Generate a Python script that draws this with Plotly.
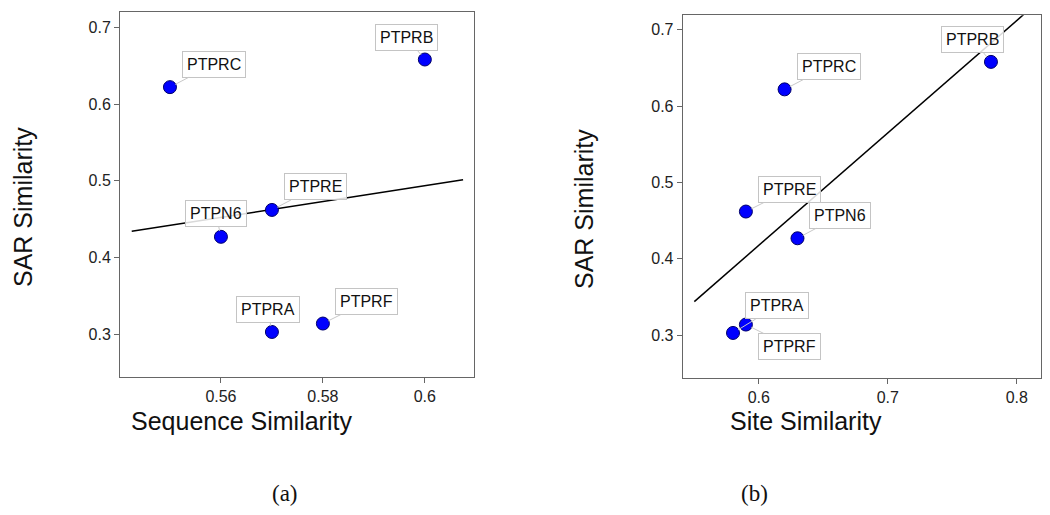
import numpy as np
import plotly.graph_objects as go

# ---- data ----
genes = ["PTPRC", "PTPRB", "PTPRE", "PTPN6", "PTPRA", "PTPRF"]
seq_sim = [0.55, 0.60, 0.57, 0.56, 0.57, 0.58]
site_sim = [0.62, 0.78, 0.59, 0.63, 0.58, 0.59]
sar_sim = [0.622, 0.658, 0.462, 0.427, 0.303, 0.314]

x_ticks_a = [0.56, 0.58, 0.6]
x_ticks_b = [0.6, 0.7, 0.8]
y_ticks = [0.3, 0.4, 0.5, 0.6, 0.7]

# label offsets in pixels (box centre relative to point)
offs_a = {"PTPRC": (44, -23), "PTPRB": (-18, -22), "PTPRE": (44, -23),
          "PTPN6": (-5, -23), "PTPRA": (-4, -22), "PTPRF": (44, -22)}
offs_b = {"PTPRC": (44, -23), "PTPRB": (-18, -22), "PTPRE": (44, -22),
          "PTPN6": (43, -23), "PTPRA": (44, -27), "PTPRF": (44, 22)}

FONT = "Liberation Sans, Arial, sans-serif"
W, H = 1050, 515

fig = go.Figure()


def fit_line(xs, ys):
    xs = np.asarray(xs, float)
    ys = np.asarray(ys, float)
    k, b = np.polyfit(xs, ys, 1)
    rng = xs.max() - xs.min()
    lx = np.array([xs.min() - 0.15 * rng, xs.max() + 0.15 * rng])
    return lx, k * lx + b


for xs, xa, ya in [(seq_sim, "x", "y"), (site_sim, "x2", "y2")]:
    lx, ly = fit_line(xs, sar_sim)
    fig.add_trace(go.Scatter(x=lx, y=ly, mode="lines", xaxis=xa, yaxis=ya,
                             line=dict(color="black", width=1.5),
                             showlegend=False, hoverinfo="skip"))
    fig.add_trace(go.Scatter(x=xs, y=sar_sim, mode="markers", xaxis=xa, yaxis=ya,
                             marker=dict(size=13, color="#0000ff",
                                         line=dict(color="#00006a", width=1)),
                             showlegend=False, text=genes))

annots = []
for xs, xr, yr, offs in [(seq_sim, "x", "y", offs_a), (site_sim, "x2", "y2", offs_b)]:
    for g, xv, yv in zip(genes, xs, sar_sim):
        ax, ay = offs[g]
        annots.append(dict(x=xv, y=yv, xref=xr, yref=yr, text=g, showarrow=True,
                           ax=ax, ay=ay, arrowhead=0, arrowwidth=1,
                           arrowcolor="#c8c8c8", standoff=6,
                           bordercolor="#c4c4c4", borderwidth=1, borderpad=4,
                           bgcolor="rgba(255,255,255,0.85)",
                           font=dict(family=FONT, size=16, color="#111")))


def px2paper(px, py):
    return px / W, 1 - py / H


def title_ann(text, px, py, angle=0, size=25, family=FONT):
    x, y = px2paper(px, py)
    return dict(x=x, y=y, xref="paper", yref="paper", text=text, showarrow=False,
                textangle=angle, xanchor="center", yanchor="middle",
                font=dict(family=family, size=size, color="#111"))


annots += [
    title_ann("Sequence Similarity", 241, 421),
    title_ann("SAR Similarity", 22.5, 207.5, -90),
    title_ann("Site Similarity", 806, 421),
    title_ann("SAR Similarity", 584, 209, -90),
    title_ann("(a)", 285, 493, size=23, family="Liberation Serif, Times New Roman, serif"),
    title_ann("(b)", 754, 493, size=23, family="Liberation Serif, Times New Roman, serif"),
]

axis_common = dict(showline=True, linecolor="#666", linewidth=1, mirror=True,
                   ticks="outside", ticklen=5, tickcolor="#666", tickwidth=1,
                   showgrid=False, zeroline=False,
                   tickfont=dict(family=FONT, size=16, color="#222"))

fig.update_layout(
    width=W, height=H,
    margin=dict(l=0, r=0, t=0, b=0),
    paper_bgcolor="white", plot_bgcolor="white",
    xaxis=dict(domain=[120 / W, 474.3 / W], range=[0.5402, 0.6097],
               tickvals=x_ticks_a, ticktext=[f"{v:g}" for v in x_ticks_a],
               anchor="y", **axis_common),
    yaxis=dict(domain=[1 - 376.5 / H, 1 - 12.3 / H], range=[0.245, 0.7195],
               tickvals=y_ticks, ticktext=[f"{v:g}" for v in y_ticks],
               anchor="x", **axis_common),
    xaxis2=dict(domain=[682.7 / W, 1041 / W], range=[0.541, 0.8188],
                tickvals=x_ticks_b, ticktext=[f"{v:g}" for v in x_ticks_b],
                anchor="y2", **axis_common),
    yaxis2=dict(domain=[1 - 377.7 / H, 1 - 15.3 / H], range=[0.2444, 0.719],
                tickvals=y_ticks, ticktext=[f"{v:g}" for v in y_ticks],
                anchor="x2", **axis_common),
    annotations=annots,
    showlegend=False,
)

fig.write_html("out.html", config={"displayModeBar": False},
               post_script="document.body.style.margin='0';document.body.style.overflow='hidden';")
